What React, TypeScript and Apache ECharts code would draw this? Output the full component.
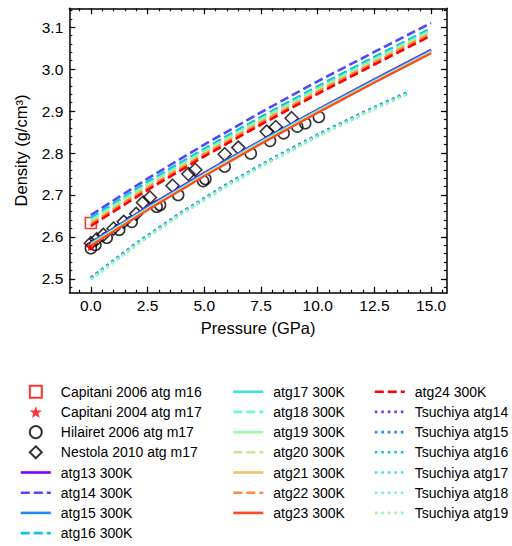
import { useEffect, useRef } from "react";
import * as echarts from "echarts";

// Equation-of-state curves at 300 K, sampled every 2.5 GPa
const pressure300 = [0, 2.5, 5, 7.5, 10, 12.5, 15];
const atg13 = [2.586, 2.672, 2.753, 2.830, 2.904, 2.976, 3.046];
const atg14 = [2.652, 2.739, 2.820, 2.897, 2.971, 3.041, 3.110];
const atg15 = [2.585, 2.670, 2.751, 2.828, 2.902, 2.974, 3.044];
const atg16 = [2.645, 2.731, 2.810, 2.886, 2.959, 3.029, 3.097];
const atg17 = [2.583, 2.668, 2.749, 2.827, 2.901, 2.972, 3.042];
const atg18 = [2.640, 2.726, 2.805, 2.881, 2.954, 3.024, 3.093];
const atg19 = [2.582, 2.667, 2.748, 2.825, 2.899, 2.971, 3.041];
const atg20 = [2.636, 2.722, 2.801, 2.877, 2.950, 3.020, 3.089];
const atg21 = [2.580, 2.665, 2.746, 2.823, 2.897, 2.969, 3.039];
const atg22 = [2.631, 2.717, 2.797, 2.873, 2.946, 3.016, 3.085];
const atg23 = [2.579, 2.664, 2.745, 2.822, 2.896, 2.968, 3.038];
const atg24 = [2.626, 2.712, 2.792, 2.868, 2.941, 3.011, 3.080];

// Tsuchiya curves, sampled every 2 GPa
const pressureTsu = [0, 2, 4, 6, 8, 10, 12, 14];
const tsu14 = [2.503, 2.585, 2.659, 2.726, 2.787, 2.844, 2.897, 2.946];
const tsu15 = [2.502, 2.584, 2.658, 2.725, 2.786, 2.843, 2.896, 2.945];
const tsu16 = [2.501, 2.583, 2.657, 2.724, 2.785, 2.842, 2.895, 2.944];
const tsu17 = [2.500, 2.582, 2.656, 2.723, 2.784, 2.841, 2.894, 2.943];
const tsu18 = [2.499, 2.581, 2.655, 2.722, 2.783, 2.840, 2.893, 2.942];
const tsu19 = [2.498, 2.580, 2.654, 2.721, 2.782, 2.839, 2.892, 2.941];

// Measurements [pressure GPa, density g/cm3]
const capitani2006 = [[0, 2.633]];
const capitani2004 = [[0, 2.578]];
const hilairet2006 = [
  [0.0, 2.573], [0.2, 2.581], [0.7, 2.598], [1.25, 2.617], [1.8, 2.636],
  [2.9, 2.672], [3.05, 2.676], [3.85, 2.700], [4.95, 2.733], [5.05, 2.738],
  [5.9, 2.768], [7.05, 2.799], [7.9, 2.829], [8.5, 2.847], [9.1, 2.863],
  [9.45, 2.871], [10.05, 2.886],
];
const nestola2010 = [
  [0.0, 2.585], [0.25, 2.594], [0.55, 2.605], [1.0, 2.620], [1.45, 2.636],
  [2.0, 2.655], [2.3, 2.682], [2.6, 2.694], [3.6, 2.722], [4.3, 2.750],
  [4.6, 2.760], [5.9, 2.797], [6.5, 2.813], [7.75, 2.851], [8.15, 2.862],
  [8.85, 2.883],
];

const xMajorTicks = [0, 2.5, 5, 7.5, 10, 12.5, 15];
const yMajorTicks = [2.5, 2.6, 2.7, 2.8, 2.9, 3.0, 3.1];

const X_MIN = -0.95;
const X_MAX = 15.7;
const Y_MIN = 2.467;
const Y_MAX = 3.145;

const xMinorTicks: number[] = [];
for (let i = -1; i <= 31; i++) xMinorTicks.push(i * 0.5);
const yMinorTicks: number[] = [];
for (let i = 124; i <= 157; i++) yMinorTicks.push(Math.round(i * 2) / 100);

// rainbow colormap, 12 samples
const rainbow = [
  "#8000ff", "#5148fc", "#238af5", "#0cc1e8", "#3ae8d7", "#68fcc1",
  "#97fca7", "#c5e88a", "#f3c16a", "#ff8a48", "#ff4824", "#ff0000",
];

const FONT = "'Liberation Sans', Arial, Helvetica, sans-serif";
const STAR =
  "path://M0,-10L2.35,-3.24L9.51,-3.09L3.8,1.24L5.88,8.09L0,4.02L-5.88,8.09L-3.8,1.24L-9.51,-3.09L-2.35,-3.24Z";
const SQUARE_ICON = "path://M0,0L10,0L10,10L0,10Z";
const DIAMOND_ICON = "path://M5,0L10,5L5,10L0,5Z";

const curves300 = [
  { name: "atg13 300K", values: atg13 },
  { name: "atg14 300K", values: atg14 },
  { name: "atg15 300K", values: atg15 },
  { name: "atg16 300K", values: atg16 },
  { name: "atg17 300K", values: atg17 },
  { name: "atg18 300K", values: atg18 },
  { name: "atg19 300K", values: atg19 },
  { name: "atg20 300K", values: atg20 },
  { name: "atg21 300K", values: atg21 },
  { name: "atg22 300K", values: atg22 },
  { name: "atg23 300K", values: atg23 },
  { name: "atg24 300K", values: atg24 },
];

const curvesTsu = [
  { name: "Tsuchiya atg14", values: tsu14, color: rainbow[1] },
  { name: "Tsuchiya atg15", values: tsu15, color: rainbow[2] },
  { name: "Tsuchiya atg16", values: tsu16, color: rainbow[3] },
  { name: "Tsuchiya atg17", values: tsu17, color: rainbow[4] },
  { name: "Tsuchiya atg18", values: tsu18, color: rainbow[5] },
  { name: "Tsuchiya atg19", values: tsu19, color: rainbow[6] },
];

function frameAxis(
  dim: "x" | "y",
  position: string,
  ticks: number[],
  tickLen: number,
  showLine: boolean,
  showLabels: boolean
) {
  const isX = dim === "x";
  return {
    type: "value",
    position,
    min: isX ? X_MIN : Y_MIN,
    max: isX ? X_MAX : Y_MAX,
    splitLine: { show: false },
    axisLine: {
      show: showLine,
      onZero: false,
      lineStyle: { color: "#000", width: 1.5 },
    },
    axisTick: {
      show: true,
      inside: true,
      length: tickLen,
      customValues: ticks,
      lineStyle: { color: "#000", width: 1.2 },
    },
    axisLabel: {
      show: showLabels,
      customValues: ticks,
      color: "#000",
      fontSize: 15.5,
      fontFamily: FONT,
      margin: isX ? 5 : 6,
      formatter: (v: number) => v.toFixed(1),
    },
  };
}

function buildOption() {
  const series: any[] = [];

  curves300.forEach((c, i) => {
    const dashed = i % 2 === 1;
    series.push({
      name: c.name,
      type: "line",
      symbol: "none",
      data: pressure300.map((p, k) => [p, c.values[k]]),
      lineStyle: {
        color: rainbow[i],
        width: dashed ? 2.6 : 2.2,
        type: dashed ? [9, 4] : "solid",
      },
      itemStyle: { color: rainbow[i] },
    });
  });

  curvesTsu.forEach((c) => {
    series.push({
      name: c.name,
      type: "line",
      symbol: "none",
      data: pressureTsu.map((p, k) => [p, c.values[k]]),
      lineStyle: { color: c.color, width: 2.6, type: [2.6, 3.9] },
      itemStyle: { color: c.color },
    });
  });

  series.push(
    {
      name: "Hilairet 2006 atg m17",
      type: "scatter",
      symbol: "circle",
      symbolSize: 11,
      data: hilairet2006,
      itemStyle: { color: "rgba(0,0,0,0)", borderColor: "#000", borderWidth: 1.6 },
    },
    {
      name: "Nestola 2010 atg m17",
      type: "scatter",
      symbol: "diamond",
      symbolSize: 13,
      data: nestola2010,
      itemStyle: { color: "rgba(0,0,0,0)", borderColor: "#000", borderWidth: 1.6 },
    },
    {
      name: "Capitani 2006 atg m16",
      type: "scatter",
      symbol: "rect",
      symbolSize: 11,
      data: capitani2006,
      itemStyle: { color: "rgba(0,0,0,0)", borderColor: "#ff0000", borderWidth: 1.6 },
    },
    {
      name: "Capitani 2004 atg m17",
      type: "scatter",
      symbol: STAR,
      symbolSize: 11,
      data: capitani2004,
      itemStyle: { color: "#ff0000" },
    }
  );

  const hideMarker = { itemStyle: { opacity: 0 } };
  const legendBase = {
    orient: "vertical",
    top: 384.7,
    padding: 0,
    itemWidth: 30,
    itemHeight: 12,
    itemGap: 6.2,
    selectedMode: false,
    symbolKeepAspect: true,
    lineStyle: { width: 2.6 },
    textStyle: {
      color: "#000",
      fontSize: 14,
      fontFamily: FONT,
      lineHeight: 14,
      padding: [0, 0, 0, 5],
    },
  };

  const col1 = [
    { name: "Capitani 2006 atg m16", icon: SQUARE_ICON, itemHeight: 11 },
    { name: "Capitani 2004 atg m17", icon: STAR },
    { name: "Hilairet 2006 atg m17" },
    { name: "Nestola 2010 atg m17", icon: DIAMOND_ICON },
    { name: "atg13 300K", ...hideMarker },
    { name: "atg14 300K", ...hideMarker },
    { name: "atg15 300K", ...hideMarker },
    { name: "atg16 300K", ...hideMarker },
  ];
  const col2 = [
    "atg17 300K", "atg18 300K", "atg19 300K", "atg20 300K",
    "atg21 300K", "atg22 300K", "atg23 300K",
  ].map((name) => ({ name, ...hideMarker }));
  const col3 = [
    "atg24 300K", "Tsuchiya atg14", "Tsuchiya atg15", "Tsuchiya atg16",
    "Tsuchiya atg17", "Tsuchiya atg18", "Tsuchiya atg19",
  ].map((name) => ({ name, ...hideMarker }));

  const xMain: any = frameAxis("x", "bottom", xMajorTicks, 6, true, true);
  xMain.name = "Pressure (GPa)";
  xMain.nameLocation = "middle";
  xMain.nameGap = 27;
  xMain.nameTextStyle = { color: "#000", fontSize: 16.5, fontFamily: FONT };

  const yMain: any = frameAxis("y", "left", yMajorTicks, 6, true, true);
  yMain.name = "Density (g/cm³)";
  yMain.nameLocation = "middle";
  yMain.nameGap = 40;
  yMain.nameRotate = 90;
  yMain.nameTextStyle = { color: "#000", fontSize: 16.5, fontFamily: FONT };

  return {
    animation: false,
    backgroundColor: "#fff",
    textStyle: { fontFamily: FONT },
    grid: { left: 69.3, top: 8.3, right: 65, bottom: 253.3, containLabel: false },
    xAxis: [
      xMain,
      frameAxis("x", "bottom", xMinorTicks, 3, false, false),
      frameAxis("x", "top", xMajorTicks, 6, true, false),
      frameAxis("x", "top", xMinorTicks, 3, false, false),
    ],
    yAxis: [
      yMain,
      frameAxis("y", "left", yMinorTicks, 3, false, false),
      frameAxis("y", "right", yMajorTicks, 6, true, false),
      frameAxis("y", "right", yMinorTicks, 3, false, false),
    ],
    legend: [
      { ...legendBase, left: 19.5, data: col1 },
      { ...legendBase, left: 232, data: col2 },
      { ...legendBase, left: 373.5, data: col3 },
    ],
    series,
  };
}

export default function App() {
  const ref = useRef<HTMLDivElement>(null);
  useEffect(() => {
    if (!ref.current) return;
    const chart = echarts.init(ref.current, null, { renderer: "svg" });
    chart.setOption(buildOption() as any);
    return () => chart.dispose();
  }, []);
  return (
    <div
      ref={ref}
      style={{ position: "fixed", left: 0, top: 0, width: 512, height: 546 }}
    />
  );
}
